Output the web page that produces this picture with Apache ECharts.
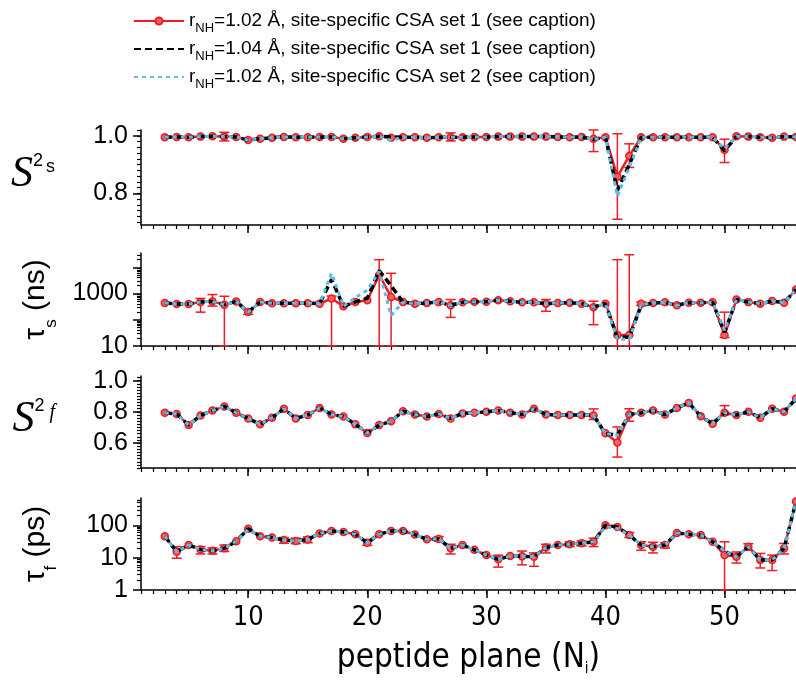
<!DOCTYPE html>
<html><head><meta charset="utf-8">
<script src="https://cdn.jsdelivr.net/npm/echarts@6/dist/echarts.min.js"></script>
<style>html,body{margin:0;padding:0;background:#fff}#c{width:796px;height:685px}</style>
</head><body><div id="c"></div>
<script>
// ---------------- data ----------------
const residues = [3,4,5,6,7,8,9,10,11,12,13,14,15,16,17,18,19,20,21,22,23,24,25,26,27,28,29,30,31,32,33,34,35,36,37,38,39,40,41,42,43,44,45,46,47,48,49,50,51,52,53,54,55,56];

const legendNames = [
  'rNH=1.02 Å, site-specific CSA set 1 (see caption)',
  'rNH=1.04 Å, site-specific CSA set 1 (see caption)',
  'rNH=1.02 Å, site-specific CSA set 2 (see caption)'
];

// S2s
const s2sRed   = [.995,.996,.995,.997,.998,.997,.996,.985,.990,.993,.996,.995,.995,.996,.996,.990,.993,.996,.998,.993,.995,.995,.993,.995,.995,.995,.996,.996,.997,.997,.997,.997,.997,.996,.995,.996,.990,.995,.858,.930,.995,.995,.995,.995,.995,.995,.995,.951,.998,.997,.995,.993,.997,.996];
const s2sBlack = [.995,.996,.995,.997,.998,.997,.996,.985,.990,.993,.996,.995,.995,.996,.996,.990,.993,.996,.998,.996,.995,.995,.993,.995,.995,.995,.996,.996,.997,.997,.997,.997,.997,.996,.995,.996,.987,.995,.810,.900,.995,.995,.995,.995,.995,.995,.995,.948,.998,.997,.995,.993,.997,.996];
const s2sBlue  = [.995,.996,.995,.997,.998,.997,.996,.985,.990,.993,.996,.995,.995,.996,.996,.990,.993,.996,.998,.984,.995,.995,.993,.995,.995,.995,.996,.996,.997,.997,.997,.997,.997,.996,.995,.996,.987,.995,.790,.890,.995,.995,.995,.995,.995,.995,.995,.955,.998,.997,.995,.993,.997,.996];
const s2sErr = [[8,.982,1.012],[27,.982,1.010],[39,.945,1.020],[41,.710,1.007],[42,.890,.972],[50,.907,.988]];

// tau_s (ns)
const tauSRed   = [433,400,400,473,500,376,500,196,473,422,422,422,430,410,645,325,473,550,5100,740,470,410,435,470,355,460,490,490,550,510,460,460,410,435,445,410,303,410,26,26,410,435,460,355,445,445,460,26,590,470,410,516,445,1420];
const tauSBlack = [433,400,400,473,500,376,500,196,473,422,422,422,430,410,3470,325,480,650,7500,2000,470,410,435,470,355,460,490,490,550,510,460,460,410,435,445,410,303,410,21,22,350,435,460,355,445,445,460,33,590,470,410,516,445,1420];
const tauSBlue  = [433,400,400,473,500,376,500,196,473,422,422,422,430,410,5900,325,700,1350,6900,145,470,410,435,470,355,460,490,490,550,510,460,460,410,435,445,410,303,410,18,18,380,435,460,355,445,445,460,40,590,470,410,516,445,1420];
const tauSErr = [[6,195,650],[7,331,912],[8,10,785],[10,160,240],[17,10,800],[21,10,19500],[22,10,5900],[27,123,590],[35,210,590],[39,65,510],[41,10,19500],[42,10,30000],[43,350,480],[50,21,195]];

// S2f
const s2fRed   = [.794,.787,.715,.777,.808,.835,.794,.758,.720,.762,.820,.758,.780,.825,.783,.770,.720,.665,.715,.740,.804,.783,.770,.787,.758,.790,.794,.800,.808,.794,.783,.820,.783,.780,.780,.780,.777,.663,.604,.783,.794,.808,.783,.825,.857,.772,.724,.794,.780,.800,.762,.820,.800,.885];
const s2fBlack = [.794,.787,.715,.777,.808,.835,.794,.758,.720,.762,.820,.758,.780,.825,.783,.770,.720,.665,.715,.740,.804,.783,.770,.787,.758,.790,.794,.800,.808,.794,.783,.820,.783,.780,.780,.780,.777,.660,.652,.783,.794,.808,.783,.825,.857,.772,.724,.794,.780,.800,.762,.820,.800,.885];
const s2fBlue  = [.794,.787,.715,.777,.808,.835,.794,.758,.720,.762,.820,.758,.780,.825,.783,.770,.720,.665,.715,.740,.804,.783,.770,.787,.758,.790,.794,.800,.808,.794,.783,.820,.783,.780,.780,.780,.777,.660,.652,.783,.794,.808,.783,.825,.857,.772,.724,.794,.780,.800,.762,.820,.800,.885];
const s2fErr = [[39,.751,.819],[41,.510,.703],[42,.740,.820],[50,.780,.840]];

// tau_f (ps)
const tauFRed   = [46,15.3,24.6,18,16.4,19.5,32,79,46,42,35,33,36.5,56,67,62,53,29,53,67,67,52,37,38,19.5,24.5,17.5,12,8.9,11.2,11,10.7,20.5,24.5,26,27.8,31,100,89,50,24.5,21.7,24.5,58,53,50,31,12,10.7,21.7,8.5,8.5,19.5,550];
const tauFBlack = [46,15.3,24.6,18,16.4,19.5,32,79,46,42,35,33,36.5,56,67,62,53,29,53,67,67,52,37,38,19.5,24.5,17.5,12,8.9,11.2,11,10.7,20.5,24.5,26,27.8,31,100,89,50,24.5,21.7,24.5,58,53,50,31,16,10.7,21.7,8.5,8.5,19.5,550];
const tauFBlue  = [46,15.3,24.6,18,16.4,19.5,32,72,46,42,35,33,36.5,56,67,62,53,29,53,67,67,52,37,38,19.5,24.5,17.5,12,8.9,11.2,11,10.7,20.5,24.5,26,27.8,31,88,80,50,24.5,21.7,24.5,58,53,50,31,16,10.7,21.7,8.5,8.5,19.5,550];
const tauFErr = [[4,9.6,22],[6,13,22],[7,13,20],[8,15.5,24.5],[13,28,42],[14,27,40],[15,29,44],[20,24,35],[26,32,45],[27,13,26],[31,5.1,12],[33,6,16],[34,5.4,14],[35,14,26],[37,22,31],[38,23,33],[39,22,40],[42,42,60],[43,17,31],[44,14,30],[45,20,29],[50,1,31],[51,6.8,15],[52,17,27],[53,4.8,13.5],[54,4,12],[55,13,27.5]];

// tick labels
const xLabels = [10,20,30,40,50];
const s2sLabels = [0.8,1.0];
const tauSLabels = [10,1000];
const s2fLabels = [0.6,0.8,1.0];
const tauFLabels = [1,10,100];

// ---------------- layout / style ----------------
const RED = '#ED1C24', BLACK = '#000000', BLUE = '#56BFEB';
const NARROW = 'Liberation Sans Narrow, DejaVu Sans Condensed, Liberation Sans';
const GL = 141, GW = 656;
const grids = [
  {left: GL, width: GW, top: 130, height: 95},
  {left: GL, width: GW, top: 253, height: 93},
  {left: GL, width: GW, top: 376, height: 92},
  {left: GL, width: GW, top: 498, height: 92}
];
function range(a, b, s) { const r = []; for (let v = a; v <= b + 1e-9; v += s) r.push(Math.round(v * 1000) / 1000); return r; }
function logMinor(lo, hi) { const r = []; for (let d = 1; d <= 100000; d *= 10) for (let m = 2; m <= 9; m++) { const v = m * d; if (v > lo && v < hi) r.push(v); } return r; }

const axisLineStyle = {color: '#000', width: 1.5};
const xAxes = [], yAxes = [];
const yCfg = [
  {type: 'value', min: 0.69, max: 1.02, labels: s2sLabels, major: s2sLabels, minor: range(0.70, 1.02, 0.02), fmt: v => v.toFixed(1)},
  {type: 'log', min: 10, max: 35000, labels: tauSLabels, major: [10,100,1000,10000], minor: logMinor(10, 35000), fmt: v => String(Math.round(v))},
  {type: 'value', min: 0.44, max: 1.03, labels: s2fLabels, major: s2fLabels, minor: range(0.44, 1.02, 0.02), fmt: v => v.toFixed(1)},
  {type: 'log', min: 1, max: 700, labels: tauFLabels, major: [1,10,100], minor: logMinor(1, 700), fmt: v => String(Math.round(v))}
];
const yNames = [
  {name: '{S|S}{sup|2}{sub|s}', rotate: 0},
  {name: '{t|τ}{sub|s}{t| (ns)}', rotate: 90},
  {name: '{S|S}{sup|2}{subi|f}', rotate: 0},
  {name: '{t|τ}{sub|f}{t| (ps)}', rotate: 90}
];
const yLabelFont = {fontFamily: 'Liberation Sans', fontSize: 25, color: '#000'};

for (let i = 0; i < 4; i++) {
  const last = i === 3;
  xAxes.push({
    type: 'value', gridIndex: i, min: 1, max: 56, position: 'bottom',
    axisLine: {show: true, lineStyle: axisLineStyle},
    axisTick: {show: true, customValues: xLabels, length: 8, lineStyle: {color: '#000', width: 1.5}},
    axisLabel: {show: last, customValues: xLabels, margin: 14, fontFamily: NARROW, fontSize: 27, color: '#000'},
    splitLine: {show: false},
    name: last ? '{t|peptide plane (N}{sub|i}{t|)}' : '',
    nameLocation: 'middle', nameGap: 52,
    nameTextStyle: {rich: {
      t: {fontFamily: NARROW, fontSize: 33, color: '#000', lineHeight: 40, verticalAlign: 'top'},
      sub: {fontFamily: NARROW, fontSize: 15, color: '#000', lineHeight: 15, padding: [20,0,0,0], verticalAlign: 'top'}
    }}
  });
  xAxes.push({
    type: 'value', gridIndex: i, min: 1, max: 56, position: 'bottom',
    axisLine: {show: false},
    axisTick: {show: true, customValues: range(1, 56, 1), length: 4, lineStyle: {color: '#000', width: 1.2}},
    axisLabel: {show: false, customValues: range(1, 56, 1)},
    splitLine: {show: false}
  });
  const c = yCfg[i];
  yAxes.push({
    type: c.type, logBase: 10, gridIndex: i, min: c.min, max: c.max, position: 'left',
    axisLine: {show: true, lineStyle: axisLineStyle},
    axisTick: {show: true, customValues: c.major, length: 8, lineStyle: {color: '#000', width: 1.5}},
    axisLabel: Object.assign({customValues: c.labels, margin: 13, formatter: c.fmt}, yLabelFont),
    splitLine: {show: false},
    name: yNames[i].name, nameLocation: 'middle', nameRotate: yNames[i].rotate,
    nameGap: 86,
    nameTextStyle: {
      align: yNames[i].rotate ? 'center' : 'right',
      rich: {
        S: {fontFamily: 'Liberation Serif', fontStyle: 'italic', fontSize: 44, color: '#000', lineHeight: 50, padding: [0,0,20,0], verticalAlign: 'top'},
        sup: {fontFamily: 'Liberation Sans', fontSize: 18, color: '#000', lineHeight: 18, verticalAlign: 'top'},
        sub: yNames[i].rotate ? {fontFamily: 'Liberation Sans', fontSize: 17, color: '#000', lineHeight: 17, padding: [22,0,0,0], verticalAlign: 'top'}
                              : {fontFamily: 'Liberation Sans', fontSize: 18, color: '#000', lineHeight: 18, padding: [6,0,0,3], verticalAlign: 'top'},
        subi: {fontFamily: 'Liberation Serif', fontStyle: 'italic', fontSize: 20, color: '#000', lineHeight: 20, padding: [6,0,0,5], verticalAlign: 'top'},
        t: {fontFamily: 'Liberation Sans', fontSize: 30, color: '#000', lineHeight: 34, verticalAlign: 'top'}
      }
    }
  });
  yAxes.push({
    type: c.type, logBase: 10, gridIndex: i, min: c.min, max: c.max, position: 'left',
    axisLine: {show: false},
    axisTick: {show: true, customValues: c.minor, length: 4, lineStyle: {color: '#000', width: 1.2}},
    axisLabel: {show: false, customValues: c.minor},
    splitLine: {show: false}
  });
}

const panels = [
  [s2sRed, s2sBlack, s2sBlue, s2sErr],
  [tauSRed, tauSBlack, tauSBlue, tauSErr],
  [s2fRed, s2fBlack, s2fBlue, s2fErr],
  [tauFRed, tauFBlack, tauFBlue, tauFErr]
];
const series = [];
panels.forEach((p, i) => {
  const pairs = arr => residues.map((r, k) => [r, arr[k]]);
  series.push({
    type: 'line', name: legendNames[0], xAxisIndex: 2 * i, yAxisIndex: 2 * i, data: pairs(p[0]),
    symbol: 'circle', symbolSize: 7, z: 2,
    lineStyle: {color: RED, width: 2.5},
    itemStyle: {color: '#F36166', borderColor: RED, borderWidth: 1.5},
    animation: false
  });
  series.push({
    type: 'custom', name: legendNames[0], xAxisIndex: 2 * i, yAxisIndex: 2 * i, z: 2,
    data: p[3], encode: {x: 0, y: [1, 2]},
    renderItem: (params, api) => {
      const x = api.value(0);
      const lo = api.coord([x, api.value(1)]);
      const hi = api.coord([x, api.value(2)]);
      const cw = 5;
      const st = {stroke: RED, lineWidth: 1.5};
      return {type: 'group', children: [
        {type: 'line', shape: {x1: lo[0], y1: lo[1], x2: hi[0], y2: hi[1]}, style: st},
        {type: 'line', shape: {x1: lo[0] - cw, y1: lo[1], x2: lo[0] + cw, y2: lo[1]}, style: st},
        {type: 'line', shape: {x1: hi[0] - cw, y1: hi[1], x2: hi[0] + cw, y2: hi[1]}, style: st}
      ]};
    },
    animation: false
  });
  series.push({
    type: 'line', name: legendNames[1], xAxisIndex: 2 * i, yAxisIndex: 2 * i, data: pairs(p[1]),
    symbol: 'none', z: 3,
    lineStyle: {color: BLACK, width: 3.5, type: [7, 4]},
    itemStyle: {color: BLACK},
    animation: false
  });
  series.push({
    type: 'line', name: legendNames[2], xAxisIndex: 2 * i, yAxisIndex: 2 * i, data: pairs(p[2]),
    symbol: 'none', z: 4,
    lineStyle: {color: BLUE, width: 3, type: [4, 4]},
    itemStyle: {color: BLUE},
    animation: false
  });
});

const legendRich = {
  t: {fontFamily: 'Liberation Sans', fontSize: 19, color: '#000', lineHeight: 20, verticalAlign: 'top'},
  sub: {fontFamily: 'Liberation Sans', fontSize: 13, color: '#000', lineHeight: 13, padding: [11, 0, 0, 0], verticalAlign: 'top'}
};

const chart = echarts.init(document.getElementById('c'), null, {renderer: 'canvas'});
chart.setOption({
  backgroundColor: '#fff',
  animation: false,
  legend: {
    data: [
      {name: legendNames[0]},
      {name: legendNames[1], itemStyle: {opacity: 0}},
      {name: legendNames[2], itemStyle: {opacity: 0}}
    ],
    orient: 'vertical', left: 128, top: 6, itemGap: 4,
    itemWidth: 50, itemHeight: 9, selectedMode: false,
    formatter: n => '{t|r}{sub|NH}{t|' + n.slice(3) + '}',
    textStyle: {rich: legendRich}
  },
  grid: grids,
  xAxis: xAxes,
  yAxis: yAxes,
  series: series
});
</script>
</body></html>
